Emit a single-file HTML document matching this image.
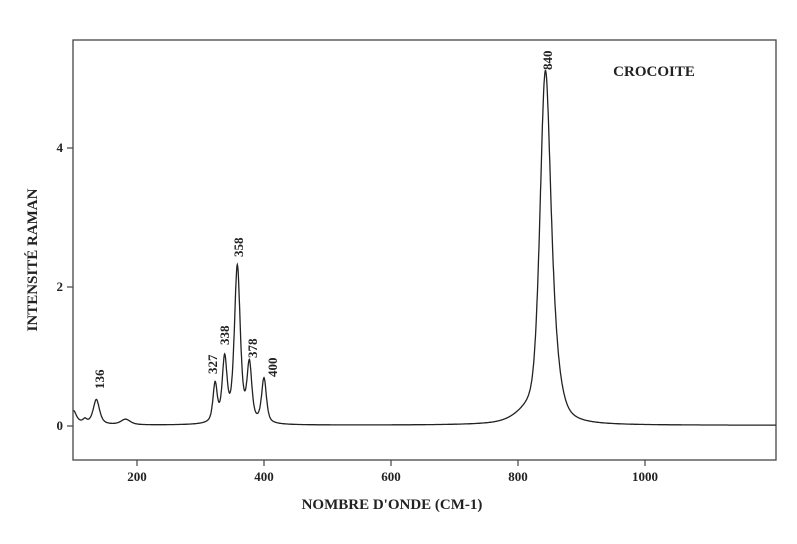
<!DOCTYPE html>
<html><head><meta charset="utf-8"><style>
body{margin:0;background:#fff}
svg{display:block}
text{font-family:"Liberation Serif",serif;font-weight:bold;fill:#222}
</style></head><body>
<svg id="s" width="797" height="544" viewBox="0 0 797 544">
<rect x="73" y="40" width="703" height="420" fill="none" stroke="#444" stroke-width="1.3"/>
<g stroke="#444" stroke-width="1.2">
<line x1="137" y1="460" x2="137" y2="466"/><line x1="264" y1="460" x2="264" y2="466"/>
<line x1="391" y1="460" x2="391" y2="466"/><line x1="518" y1="460" x2="518" y2="466"/>
<line x1="645" y1="460" x2="645" y2="466"/>
<line x1="67" y1="426" x2="73" y2="426"/><line x1="67" y1="287" x2="73" y2="287"/><line x1="67" y1="148" x2="73" y2="148"/>
</g>
<g font-size="13" text-anchor="middle">
<text x="137" y="481">200</text><text x="264" y="481">400</text><text x="391" y="481">600</text>
<text x="518" y="481">800</text><text x="645" y="481">1000</text>
<text x="63" y="430" text-anchor="end">0</text><text x="63" y="291" text-anchor="end">2</text><text x="63" y="152" text-anchor="end">4</text>
</g>
<text x="392" y="509" font-size="15" text-anchor="middle">NOMBRE D'ONDE (CM-1)</text>
<text transform="translate(37,260) rotate(-90)" font-size="15" text-anchor="middle">INTENSITÉ RAMAN</text>
<text x="654" y="76" font-size="15" text-anchor="middle">CROCOITE</text>
<g font-size="13">
<text transform="translate(104,389) rotate(-90)">136</text>
<text transform="translate(217,374) rotate(-90)">327</text>
<text transform="translate(229,345) rotate(-90)">338</text>
<text transform="translate(243,257) rotate(-90)">358</text>
<text transform="translate(257,358) rotate(-90)">378</text>
<text transform="translate(277,377) rotate(-90)">400</text>
<text transform="translate(552,70) rotate(-90)">840</text>
</g>
<path id="p" fill="none" stroke="#222" stroke-width="1.3"/>
</svg>
<script>
var pk=[[100,0.2,6,1],[118,0.06,4,1],[136,0.36,6,0.7],[182,0.08,9,0.7],[323,0.55,4,0.6],[338,0.9,4.5,0.6],[358,2.25,5.5,0.6],[377,0.82,4.5,0.6],[400,0.64,4.5,0.6],[843,4.85,10,0.45],[858,0.55,12,0.5],[815,0.12,25,0.5]];
var d="";
for(var v=100;v<=1206;v+=0.5){var y=0.01;for(var i=0;i<pk.length;i++){var p=pk[i],t=(v-p[0])/p[2];y+=p[1]*(p[3]/(1+t*t)+(1-p[3])*Math.exp(-0.693*t*t));}
var px=137+(v-200)*0.635,py=426-y*69.5;d+=(d?"L":"M")+px.toFixed(1)+" "+py.toFixed(1);}
document.getElementById("p").setAttribute("d",d);
</script>
</body></html>
